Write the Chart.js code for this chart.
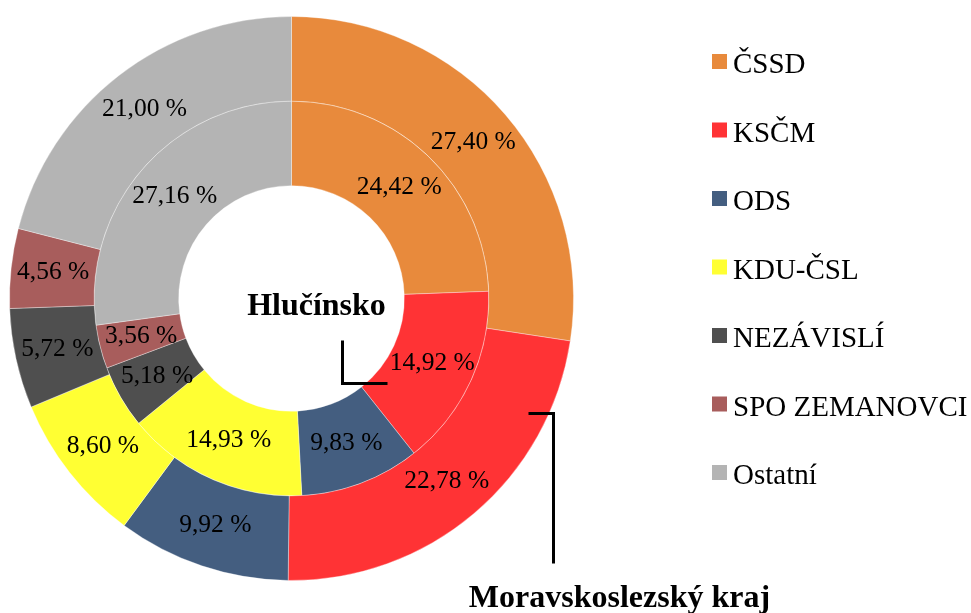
<!DOCTYPE html>
<html>
<head>
<meta charset="utf-8">
<script src="https://cdn.jsdelivr.net/npm/chart.js@4/dist/chart.umd.min.js"></script>
<style>
  html, body { margin: 0; padding: 0; background: #fff; }
  #wrap { width: 971px; height: 613px; }
</style>
</head>
<body>
<div id="wrap"><canvas id="pie" width="971" height="613"></canvas></div>
<script>
// Data
const parties = ['ČSSD', 'KSČM', 'ODS', 'KDU-ČSL', 'NEZÁVISLÍ', 'SPO ZEMANOVCI', 'Ostatní'];
const kraj = [27.40, 22.78, 9.92, 8.60, 5.72, 4.56, 21.00];        // outer ring
const hlucinsko = [24.42, 14.92, 9.83, 14.93, 5.18, 3.56, 27.16];  // inner ring
const colors = ['#E88A3C', '#FF3335', '#445E80', '#FFFF33', '#4F4F4F', '#A85D5C', '#B4B4B4'];

const serif = '"Liberation Serif", "Times New Roman", serif';

const fmt = v => v.toFixed(2).replace('.', ',') + ' %';

// value labels in the middle of each slice
const sliceLabels = {
  id: 'sliceLabels',
  afterDatasetsDraw(chart) {
    const ctx = chart.ctx;
    ctx.save();
    ctx.font = '25.5px ' + serif;
    ctx.fillStyle = '#000';
    ctx.textAlign = 'center';
    ctx.textBaseline = 'middle';
    chart.data.datasets.forEach((ds, i) => {
      chart.getDatasetMeta(i).data.forEach((arc, j) => {
        const p = arc.tooltipPosition();
        ctx.fillText(fmt(ds.data[j]), p.x, p.y);
      });
    });
    ctx.restore();
  }
};

// ring names + connector lines
const ringNames = {
  id: 'ringNames',
  afterDraw(chart) {
    const ctx = chart.ctx;
    const a = chart.chartArea;
    const cx = (a.left + a.right) / 2, cy = (a.top + a.bottom) / 2;
    ctx.save();
    ctx.strokeStyle = '#000';
    ctx.lineWidth = 3;
    ctx.beginPath();
    ctx.moveTo(cx + 51, cy + 42);
    ctx.lineTo(cx + 51, cy + 85);
    ctx.lineTo(cx + 96, cy + 85);
    ctx.stroke();
    ctx.beginPath();
    ctx.moveTo(cx + 237, cy + 115);
    ctx.lineTo(cx + 262, cy + 115);
    ctx.lineTo(cx + 262, cy + 265);
    ctx.stroke();

    ctx.fillStyle = '#000';
    ctx.font = 'bold 32px ' + serif;
    ctx.textAlign = 'center';
    ctx.textBaseline = 'alphabetic';
    ctx.fillText('Hlučínsko', cx + 25, cy + 16);
    ctx.fillText('Moravskoslezský kraj', cx + 328, cy + 308);
    ctx.restore();
  }
};

// legend on the right
const sideLegend = {
  id: 'sideLegend',
  afterDraw(chart) {
    const ctx = chart.ctx;
    ctx.save();
    ctx.font = '29px ' + serif;
    ctx.fillStyle = '#000';
    ctx.textAlign = 'left';
    ctx.textBaseline = 'alphabetic';
    parties.forEach((name, i) => {
      const top = 54 + i * 68.5;
      ctx.fillStyle = colors[i];
      ctx.fillRect(712, top, 15, 15);
      ctx.fillStyle = '#000';
      ctx.fillText(name, 733, top + 19);
    });
    ctx.restore();
  }
};

new Chart(document.getElementById('pie'), {
  type: 'doughnut',
  data: {
    labels: parties,
    datasets: [
      { label: 'Moravskoslezský kraj', data: kraj, backgroundColor: colors,
        borderWidth: 1, borderColor: 'rgba(255,255,255,0.35)' },
      { label: 'Hlučínsko', data: hlucinsko, backgroundColor: colors,
        borderWidth: 1, borderColor: 'rgba(255,255,255,0.35)' }
    ]
  },
  options: {
    responsive: false,
    animation: false,
    cutout: '40%',
    layout: {
      padding: { left: 9, right: 397, top: 16, bottom: 32 }
    },
    plugins: {
      legend: { display: false },
      tooltip: { enabled: false }
    }
  },
  plugins: [sliceLabels, ringNames, sideLegend]
});
</script>
</body>
</html>
